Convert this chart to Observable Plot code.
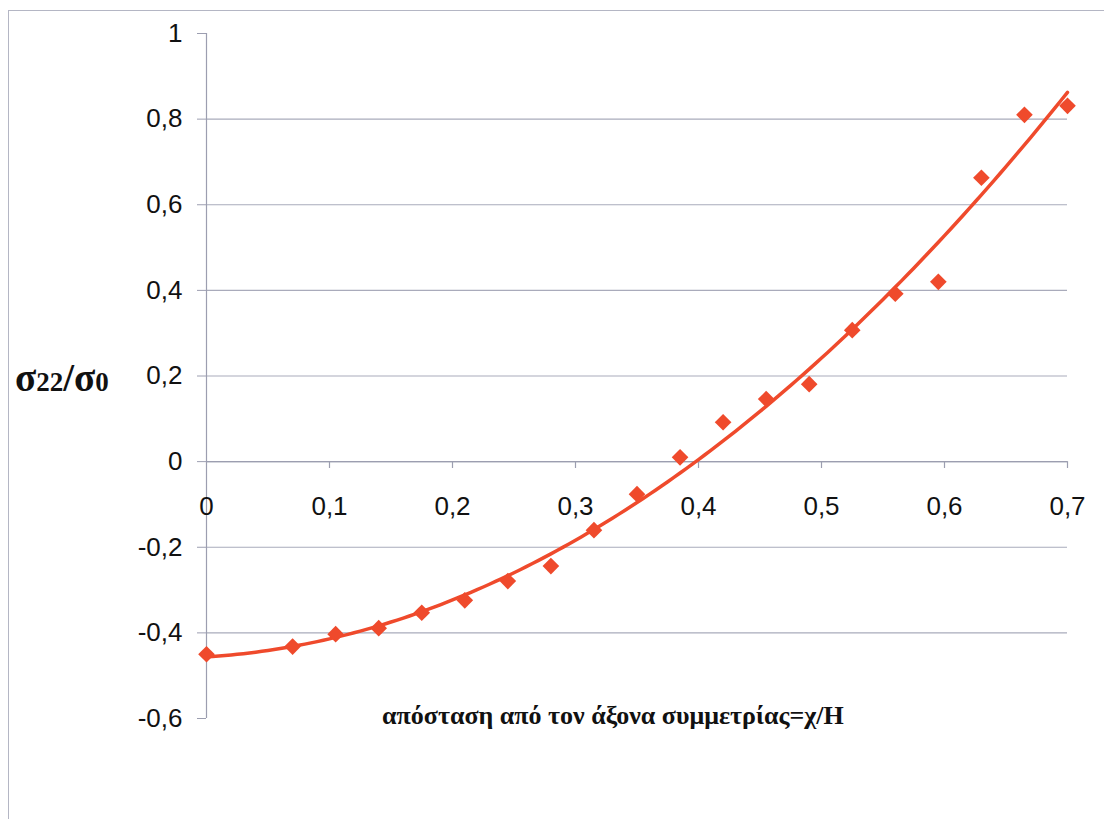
<!DOCTYPE html>
<html>
<head>
<meta charset="utf-8">
<script src="https://cdn.jsdelivr.net/npm/d3@7"></script>
<script src="https://cdn.jsdelivr.net/npm/@observablehq/plot@0.6"></script>
<style>
  html, body { margin: 0; padding: 0; background: #fff; }
  #wrap { position: relative; width: 1104px; height: 819px; overflow: hidden; }
  #frameL { position: absolute; left: 8px; top: 10px; width: 0; height: 809px; border-left: 1.5px solid #b4b6c4; }
  #frameT { position: absolute; left: 8px; top: 10px; width: 1096px; height: 0; border-top: 1.5px solid #b4b6c4; }
  .ttl { position: absolute; font-family: "Liberation Serif", "Times New Roman", serif; font-weight: bold; color: #111; white-space: nowrap; }
</style>
</head>
<body>
<div id="wrap">
  <div id="frameL"></div>
  <div id="frameT"></div>
</div>
<script>
// Data
const xValues = [0, 0.07, 0.105, 0.14, 0.175, 0.21, 0.245, 0.28, 0.315, 0.35, 0.385, 0.42, 0.455, 0.49, 0.525, 0.56, 0.595, 0.63, 0.665, 0.70];
const yValues = [-0.450, -0.432, -0.403, -0.389, -0.353, -0.324, -0.279, -0.244, -0.160, -0.076, 0.010, 0.092, 0.146, 0.181, 0.307, 0.392, 0.420, 0.663, 0.810, 0.831];
const yTicks = [-0.6, -0.4, -0.2, 0, 0.2, 0.4, 0.6, 0.8, 1];
const xTicks = [0, 0.1, 0.2, 0.3, 0.4, 0.5, 0.6, 0.7];
const yTitle = ["σ", "22", "/", "σ", "0"];
const xTitle = "απόσταση από τον άξονα συμμετρίας=χ/Η";

const points = xValues.map((x, i) => ({x, y: yValues[i]}));

// Polynomial (order 2) least-squares trendline, as in the original spreadsheet chart
function polyFit(xs, ys, order) {
  const n = order + 1;
  const A = Array.from({length: n}, () => new Array(n + 1).fill(0));
  for (let k = 0; k < xs.length; k++) {
    for (let i = 0; i < n; i++) {
      for (let j = 0; j < n; j++) A[i][j] += Math.pow(xs[k], i + j);
      A[i][n] += ys[k] * Math.pow(xs[k], i);
    }
  }
  for (let i = 0; i < n; i++) {
    let p = i;
    for (let r = i + 1; r < n; r++) if (Math.abs(A[r][i]) > Math.abs(A[p][i])) p = r;
    [A[i], A[p]] = [A[p], A[i]];
    for (let r = 0; r < n; r++) {
      if (r === i) continue;
      const f = A[r][i] / A[i][i];
      for (let c = i; c <= n; c++) A[r][c] -= f * A[i][c];
    }
  }
  return A.map((row, i) => row[n] / row[i]);
}
const coef = polyFit(xValues, yValues, 2);
const trend = d3.range(0, 0.7001, 0.005).map(x => ({x, y: coef.reduce((s, c, i) => s + c * Math.pow(x, i), 0)}));

const fmt = d => String(+d.toFixed(1)).replace(".", ",");
const red = "#ef4a2c";
const gridColor = "#a9abbb";
const axisColor = "#9c9eb0";

const chart = Plot.plot({
  width: 1104,
  height: 819,
  marginTop: 33,
  marginBottom: 101,
  marginLeft: 206,
  marginRight: 37,
  style: {background: "transparent", fontFamily: "Liberation Sans, Arial, sans-serif"},
  x: {domain: [0, 0.7], axis: null},
  y: {domain: [-0.6, 1], axis: null},
  marks: [
    Plot.gridY(yTicks.filter(d => d > -0.6 && d < 1), {stroke: gridColor, strokeOpacity: 1, strokeWidth: 1.2}),
    Plot.axisY(yTicks, {
      tickSize: 9, tickPadding: 15, tickFormat: fmt, fontSize: 26,
      stroke: axisColor, fill: "#111", label: null
    }),
    Plot.ruleX([0], {y1: -0.6, y2: 1, stroke: axisColor, strokeWidth: 1.2}),
    Plot.ruleY([0], {x1: 0, x2: 0.7, stroke: axisColor, strokeWidth: 1.2}),
    Plot.ruleX(xTicks.slice(1), {x: d => d, y1: 0, y2: -0.016, stroke: axisColor, strokeWidth: 1.2}),
    Plot.text(xTicks, {x: d => d, y: 0, dy: 45, text: fmt, fontSize: 26, fill: "#111"}),
    Plot.line(trend, {x: "x", y: "y", stroke: red, strokeWidth: 3.5, curve: "monotone-x"}),
    Plot.dot(points, {x: "x", y: "y", symbol: "diamond2", r: 7.5, fill: red, stroke: "none"})
  ]
});
chart.style.position = "absolute";
chart.style.left = "0px";
chart.style.top = "0px";
const wrap = document.getElementById("wrap");
wrap.appendChild(chart);

// Axis titles
const yt = document.createElement("div");
yt.className = "ttl";
yt.style.left = "15px";
yt.style.top = "355px";
yt.style.fontSize = "39px";
yt.innerHTML = yTitle.map((t, i) => (i === 1 || i === 4)
  ? `<span style="font-size:27px;">${t}</span>` : `<span>${t}</span>`).join("");
wrap.appendChild(yt);

const xt = document.createElement("div");
xt.className = "ttl";
xt.style.left = "382px";
xt.style.top = "701px";
xt.style.fontSize = "26px";
xt.textContent = xTitle;
wrap.appendChild(xt);
</script>
</body>
</html>
